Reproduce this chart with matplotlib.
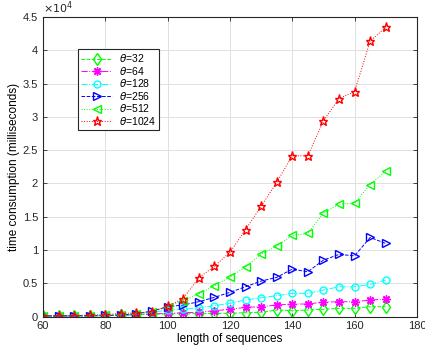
import matplotlib
matplotlib.use('Agg')
import matplotlib.pyplot as plt
from matplotlib.ticker import FuncFormatter

plt.rcParams['font.family'] = ['Liberation Sans', 'DejaVu Sans']

# longitud de las secuencias
lengths = [60, 65, 70, 75, 80, 85, 90, 95, 100, 105, 110, 115, 120,
           125, 130, 135, 140, 145, 150, 155, 160, 165, 170]

# tiempos (ms) para cada theta
t32 = [80, 90, 100, 110, 130, 160, 250, 350, 400, 400, 450, 480, 480,
       570, 630, 975, 870, 975, 1080, 1230, 1230, 1470, 1470]
t64 = [80, 90, 100, 110, 140, 180, 280, 375, 480, 570, 630, 870, 1080,
       1380, 1470, 1725, 1875, 1875, 2175, 2220, 2220, 2475, 2625]
t128 = [90, 100, 110, 120, 150, 200, 400, 600, 975, 1080, 1320, 1620, 1980,
        2475, 2820, 3120, 3480, 3480, 3975, 4470, 4470, 4830, 5475]
t256 = [90, 100, 110, 120, 160, 220, 400, 825, 1470, 1725, 2220, 2880, 3630,
        4470, 5325, 5880, 7125, 6720, 8475, 9330, 9120, 11880, 10980]
t512 = [100, 110, 120, 130, 180, 250, 450, 675, 1470, 2370, 3375, 4620, 5925,
        7470, 9330, 10575, 12180, 12480, 15570, 16870, 17070, 19830, 21870]
t1024 = [100, 110, 150, 200, 300, 450, 550, 700, 1550, 2700, 5800, 7550, 9650,
         13050, 16550, 20150, 24150, 24150, 29400, 32750, 33800, 41400, 43450]

labels = [r'$\theta$=32', r'$\theta$=64', r'$\theta$=128',
          r'$\theta$=256', r'$\theta$=512', r'$\theta$=1024']

fig = plt.figure(figsize=(4.25, 3.48), dpi=100)
ax = fig.add_axes([0.101, 0.0905, 0.880, 0.8605])

lw = 0.7
ms = 5
ax.plot(lengths, t32, '--', color='#00ff00', marker='d', markersize=6, mfc='none', lw=lw, label=labels[0])
ax.plot(lengths, t64, '-.', color='#ff00ff', marker=(8, 2, 0), markersize=ms + 1, lw=lw, label=labels[1])
ax.plot(lengths, t128, '-.', color='#00ffff', marker='o', markersize=ms, mfc='none', lw=lw, label=labels[2])
ax.plot(lengths, t256, '--', color='#0000ff', marker='>', markersize=ms + 0.5, mfc='none', lw=lw, label=labels[3])
ax.plot(lengths, t512, ':', color='#00ff00', marker='<', markersize=ms + 0.5, mfc='none', lw=lw, label=labels[4])
ax.plot(lengths, t1024, ':', color='#ff0000', marker='*', markersize=6.5, mfc='none', lw=lw, label=labels[5])

ax.set_xlim(60, 180)
ax.set_ylim(0, 45000)
ax.set_xticks(range(60, 181, 20))
ax.set_yticks(range(0, 45001, 5000))
ax.yaxis.set_major_formatter(FuncFormatter(lambda v, p: f'{v / 1e4:g}'))
ax.tick_params(direction='in', top=True, right=True, labelsize=8, length=3, width=0.6, colors='#262626')
ax.grid(True, color='#e0e0e0', lw=0.7)
ax.set_axisbelow(True)
for s in ax.spines.values():
    s.set_linewidth(0.8)
    s.set_color('#262626')

ax.text(0.0, 1.005, r'$\times10^4$', transform=ax.transAxes, fontsize=8, ha='left', va='bottom', color='#262626')
ax.set_xlabel('length of sequences', fontsize=8.5, labelpad=1)
ax.set_ylabel('time consumption (milliseconds)', fontsize=8.5, labelpad=2)

leg = ax.legend(loc='upper left', bbox_to_anchor=(0.094, 0.893), fontsize=7.5,
                fancybox=False, edgecolor='#262626', framealpha=1,
                handlelength=3.0, borderpad=0.3, labelspacing=0.05,
                borderaxespad=0, handletextpad=0.6)
leg.get_frame().set_linewidth(0.8)

fig.savefig('out.png', dpi=100)
